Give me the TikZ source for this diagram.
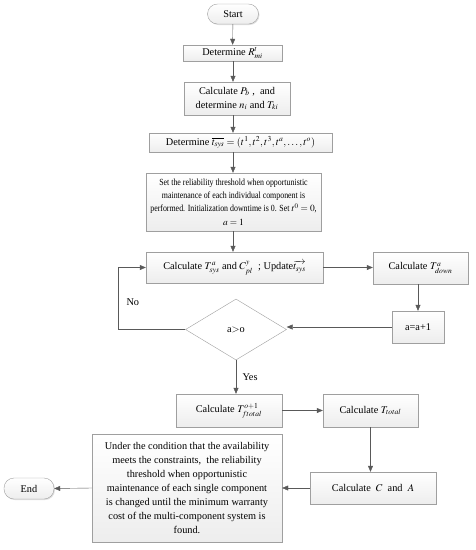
\documentclass[tikz,border=0pt]{standalone}
\usepackage{amsmath}
\usepackage{mathptmx}
\usepackage{fontspec}
\setmainfont{Liberation Serif}
\newfontfamily\narrowserif[FakeStretch=0.84]{Liberation Serif}
\usetikzlibrary{shapes.geometric,arrows.meta,shadows}

\begin{document}
\begin{tikzpicture}[x=1pt,y=-1pt,
    font=\fontsize{10.3}{14}\selectfont,
    box/.style={draw=gray!75, top color=white, bottom color=gray!14,
        drop shadow={opacity=0.25, shadow xshift=1pt, shadow yshift=-1pt},
        inner sep=2pt, align=center},
    term/.style={box, rounded corners=10pt},
    decide/.style={draw=gray!75, fill=white, diamond, aspect=1.67, inner sep=0pt,
        minimum width=101pt, minimum height=61pt},
    flow/.style={draw=gray!70!black, -{Triangle[length=6pt,width=5pt]}}]
    \useasboundingbox (0,0) rectangle (475,550);

    % main column
    \node[term, minimum width=51pt, minimum height=20pt] (start) at (233,14) {Start};
    \node[box, minimum width=99pt, minimum height=16pt] (detR) at (232.5,53) {Determine $R^{t}_{mi}$};
    \node[box, minimum width=106pt, minimum height=33pt] (calcP) at (237,98.5)
        {Calculate $P_b$ ,\ \ and\\ determine $n_i$ and $T_{ki}$};
    \node[box, minimum width=183pt, minimum height=19pt] (detT) at (240.5,142.5)
        {Determine $\overline{t_{sys}}=(t^1,t^2,t^3,t^a,\ldots,t^o)$};
    \node[box, minimum width=175pt, minimum height=58pt, font=\narrowserif\fontsize{9.4}{13.4}\selectfont] (setup) at (233.5,202)
        {Set the reliability threshold when opportunistic\\
         maintenance of each individual component is\\
         performed. Initialization downtime is 0. Set $t^0=0$,\\
         $a=1$};
    \node[box, minimum width=177pt, minimum height=31pt] (calcT) at (234.5,267.5)
        {Calculate $T^{a}_{sys}$ and $C^{y}_{pl}$\ \ ; Update$\overrightarrow{t_{sys}}$};
    \node[box, minimum width=95pt, minimum height=32pt] (down) at (420.5,268)
        {Calculate $T^{a}_{down}$};
    \node[box, minimum width=52pt, minimum height=32pt] (incr) at (418,327) {a=a+1};
    \node[decide] (check) at (236,329.5) {a$>$o};

    % lower part
    \node[box, minimum width=106pt, minimum height=33pt] (ftot) at (229,410.5)
        {Calculate $T^{o+1}_{ftotal}$};
    \node[box, minimum width=95pt, minimum height=33pt] (total) at (370.5,410.5)
        {Calculate $T_{total}$};
    \node[box, minimum width=126pt, minimum height=32pt] (costA) at (373,488)
        {Calculate\ \ $C$\ \ and\ \ $A$};
    \node[box, minimum width=190pt, minimum height=108pt] (search) at (187,488)
        {Under the condition that the availability\\
         meets the constraints,\ \ the reliability\\
         threshold when opportunistic\\
         maintenance of each single component\\
         is changed until the minimum warranty\\
         cost of the multi-component system is\\
         found.};
    \node[term, minimum width=50pt, minimum height=21pt] (stop) at (29,488.5) {End};

    \coordinate (back) at (118,329.5);

    \draw[flow] (start) -- (detR);
    \draw[flow] (detR.south) -- (detR.south -| start) -- (start |- calcP.north);
    \draw[flow] (start |- calcP.south) -- (start |- detT.north);
    \draw[flow] (start |- detT.south) -- (start |- setup.north);
    \draw[flow] (start |- setup.south) -- (start |- calcT.north);
    \draw[flow] (calcT.east) -- (calcT.east -| down.west);
    \draw[flow] (down.south -| incr) -- (incr.north);
    \draw[flow] (incr.west) -- (incr.west -| check.east);
    \draw[flow] (check.west) -- (back) |- node[pos=0.22, right=5pt] {No} (calcT.west);
    \draw[flow] (check.south) -- node[midway, right=3pt] {Yes} (check.south |- ftot.north);
    \draw[flow] (ftot.east) -- (ftot.east -| total.west);
    \draw[flow] (total.south) -- (total.south |- costA.north);
    \draw[flow] (costA.west) -- (search.east);
    \draw[flow] (search.west) -- (stop.east);
\end{tikzpicture}
\end{document}
